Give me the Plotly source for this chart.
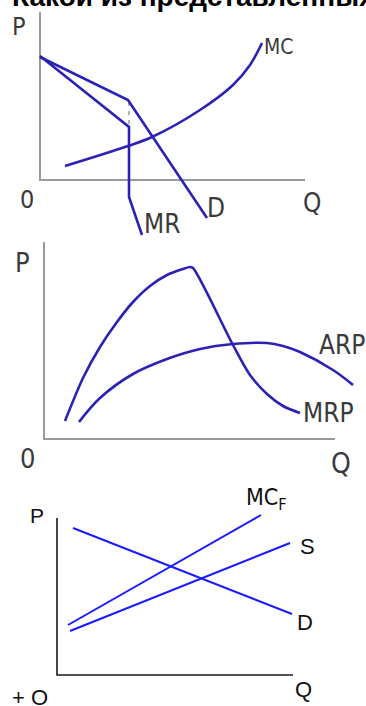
import plotly.graph_objects as go

W, H = 366, 706

# ---------------- data (panel-local units: Q to the right, P upward) ----------------
# Panel 1: kinked demand
p1_D_q = [0, 88, 167]
p1_D_p = [123, 80, -38]
p1_MR_q = [0, 89, 89, 102]
p1_MR_p = [124, 53, -17, -55]
p1_MC_q = [25, 88, 112, 160, 193, 210, 222]
p1_MC_p = [14, 34, 43, 70, 95, 115, 137]
p1_gap_q = [89, 89]
p1_gap_p = [78, 54]

# Panel 2: MRP / ARP
p2_MRP_q = [21, 39, 56, 73, 89, 106, 123, 139, 146, 149, 189, 206, 223, 239, 256]
p2_MRP_p = [18, 61, 92, 117, 137, 153, 164, 170, 172, 171, 94, 64, 45, 33, 26]
p2_ARP_q = [35, 56, 89, 123, 156, 189, 223, 239, 256, 289, 309]
p2_ARP_p = [17, 41, 65, 80, 90, 95, 96, 93, 87, 69, 54]

# Panel 3: monopsony
p3_D_q = [16, 235]
p3_D_p = [147, 61]
p3_MCF_q = [11, 204]
p3_MCF_p = [50, 160]
p3_S_q = [13, 233]
p3_S_p = [44, 132]

# ---------------- layout geometry (pixels) ----------------
panels = [
    dict(ox=40, oy=180, top=0, bot=240, ytop=12, xright=305),
    dict(ox=44, oy=439, top=240, bot=478, ytop=242, xright=335),
    dict(ox=57, oy=675, top=478, bot=706, ytop=518, xright=293),
]

fig = go.Figure()
layout_axes = {}
for i, pn in enumerate(panels, start=1):
    sfx = "" if i == 1 else str(i)
    layout_axes["xaxis" + sfx] = dict(domain=[0, 1], range=[-pn["ox"], W - pn["ox"]],
                                      visible=False, fixedrange=True, anchor="y" + sfx)
    layout_axes["yaxis" + sfx] = dict(domain=[1 - pn["bot"] / H, 1 - pn["top"] / H],
                                      range=[pn["oy"] - pn["bot"], pn["oy"] - pn["top"]],
                                      visible=False, fixedrange=True, anchor="x" + sfx)

C12 = "#2b22b5"
C3 = "#1a1aff"
AX12 = "#9a9a9a"
TXT12 = "#3a3a3a"

def line(q, p, ax, color, width, shape="linear", dash=None, smoothing=1.0):
    xa = "x" if ax == 1 else "x%d" % ax
    ya = "y" if ax == 1 else "y%d" % ax
    fig.add_trace(go.Scatter(x=q, y=p, mode="lines", xaxis=xa, yaxis=ya,
                             line=dict(color=color, width=width, shape=shape,
                                       dash=dash, smoothing=smoothing),
                             hoverinfo="skip", showlegend=False))

# axes lines
for i, pn in enumerate(panels, start=1):
    col = AX12 if i < 3 else "#1a1a1a"
    wd = 2 if i < 3 else 1.6
    line([0, 0, pn["xright"] - pn["ox"]], [pn["oy"] - pn["ytop"], 0, 0], i, col, wd)

# panel 1
line(p1_gap_q, p1_gap_p, 1, AX12, 1.5, dash="4px,5px")
line(p1_D_q, p1_D_p, 1, C12, 2.6)
line(p1_MR_q, p1_MR_p, 1, C12, 2.6)
line(p1_MC_q, p1_MC_p, 1, C12, 2.6, shape="spline", smoothing=1.0)
# panel 2
line(p2_MRP_q, p2_MRP_p, 2, C12, 2.6, shape="spline", smoothing=0.8)
line(p2_ARP_q, p2_ARP_p, 2, C12, 2.6, shape="spline", smoothing=1.0)
# panel 3
line(p3_D_q, p3_D_p, 3, C3, 2)
line(p3_MCF_q, p3_MCF_p, 3, C3, 2)
line(p3_S_q, p3_S_p, 3, C3, 2)

NARROW = "Liberation Sans Narrow, DejaVu Sans Condensed, sans-serif"
ARIAL = "Liberation Sans, Arial, sans-serif"

def label(text, px, py, panel, size, color, family):
    pn = panels[panel - 1]
    xa = "x" if panel == 1 else "x%d" % panel
    ya = "y" if panel == 1 else "y%d" % panel
    fig.add_annotation(x=px - pn["ox"], y=pn["oy"] - py, xref=xa, yref=ya, text=text,
                       showarrow=False, xanchor="center", yanchor="middle",
                       font=dict(size=size, color=color, family=family))

# panel 1 labels
label("P", 19, 26, 1, 25, TXT12, NARROW)
label("0", 27, 199, 1, 25, TXT12, NARROW)
label("Q", 312, 203, 1, 26, TXT12, NARROW)
label("MC", 279, 47, 1, 21, TXT12, NARROW)
label("D", 216, 208, 1, 26, TXT12, NARROW)
label("MR", 162, 224, 1, 26, TXT12, NARROW)
# panel 2 labels
label("P", 22, 262, 2, 27, TXT12, NARROW)
label("0", 27, 458, 2, 27, TXT12, NARROW)
label("Q", 341, 463, 2, 28, TXT12, NARROW)
label("ARP", 342, 345, 2, 26, TXT12, NARROW)
label("MRP", 328, 413, 2, 26, TXT12, NARROW)
# panel 3 labels
label("P", 37, 515, 3, 21, "#111111", ARIAL)
label("MC<sub>F</sub>", 266, 499, 3, 23, "#111111", NARROW)
label("S", 307, 546, 3, 22, "#111111", ARIAL)
label("D", 305, 622, 3, 22, "#111111", ARIAL)
label("Q", 303, 689, 3, 22, "#111111", ARIAL)
label("+ O", 30, 697, 3, 22, "#111111", ARIAL)

# cut-off heading at the very top
fig.add_annotation(x=10 / W, y=1 - 14 / H, xref="paper", yref="paper",
                   text="<b>Какой из представленных</b>", showarrow=False,
                   xanchor="left", yanchor="bottom",
                   font=dict(size=28, color="#000000", family="Liberation Sans, Arial, sans-serif"))

fig.update_layout(width=W, height=H, margin=dict(l=0, r=0, t=0, b=0),
                  paper_bgcolor="white", plot_bgcolor="white", showlegend=False,
                  **layout_axes)

fig.write_html("out.html", config={"displayModeBar": False},
               post_script="document.body.style.margin='0';document.body.style.overflow='hidden';")
